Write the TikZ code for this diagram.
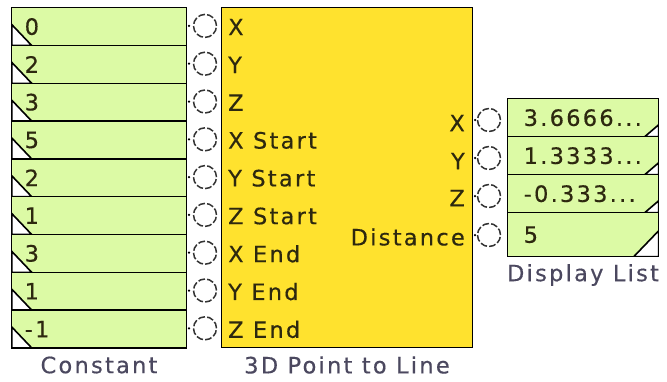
\documentclass[tikz,border=0pt]{standalone}
\usepackage{fontspec}
\setmainfont{DejaVu Sans}[LetterSpace=10, FakeBold=0.4]
\definecolor{cgreen}{RGB}{220,250,165}
\definecolor{cyellow}{RGB}{255,226,46}
\definecolor{ctext}{RGB}{45,40,15}
\definecolor{ccap}{RGB}{75,72,95}
\tikzset{
  cbox/.style = {draw, line width=1.4pt, fill=cgreen, text=ctext, minimum height=37.8pt,
    inner xsep=13pt, text width=149pt, align=left, anchor=north west,
    path picture={\filldraw[fill=white, line width=1.6pt] (path picture bounding box.south west)
      -- ++(0pt,21pt) -- ++(20pt,-21pt) -- cycle;}},
  dbox/.style = {draw, line width=1.4pt, fill=cgreen, text=ctext, minimum height=38pt,
    inner xsep=16pt, text width=119pt, align=left, anchor=north west,
    path picture={\filldraw[fill=white, line width=1.6pt] (path picture bounding box.south east)
      -- ++(0pt,12pt) -- ++(-14pt,-12pt) -- cycle;}},
  port/.style = {circle, draw=black!80, line width=1.5pt, dash pattern=on 6.8pt off 2.2pt,
    minimum size=23pt, inner sep=0pt, fill=white},
  pin/.style  = {circle, fill=black, minimum size=2.5pt, inner sep=0pt},
  lbl/.style  = {text=ctext, inner sep=0pt},
  captxt/.style = {text=ccap, inner sep=0pt}
}
\begin{document}
\begin{tikzpicture}[x=1pt, y=-1pt, font=\fontsize{22.5}{24}\selectfont]
  \useasboundingbox (0,0) rectangle (667,381);

  % constants
  \foreach \v [count=\i from 0] in {0,2,3,5,2,1,3,1,-1} {
    \node[cbox] (c\i) at (11,{7+37.8*\i}) {\v};
    \node[port] (p\i) at (205,{25.9+37.8*\i}) {};
    \node[pin] at (189,{25.9+37.8*\i}) {};
  }
  \node[captxt] (ccap) at (99,365) {Constant};

  % block
  \node[draw, line width=1.4pt, fill=cyellow, minimum width=251pt, minimum height=340pt,
        anchor=north west] (blk) at (221,7) {};
  \foreach \t [count=\i from 0] in {X,Y,Z,X Start,Y Start,Z Start,X End,Y End,Z End}
    \node[lbl, anchor=west] (in\i) at (228,{27+37.8*\i}) {\t};
  \node[captxt] (bcap) at (347,365) {3D Point to Line};

  % outputs
  \node[lbl, anchor=east] (ox) at (465,123) {X};
  \node[lbl, anchor=east] (oy) at (465,161) {Y};
  \node[lbl, anchor=east] (oz) at (465,198) {Z};
  \node[lbl, anchor=east] (od) at (465,237) {Distance};
  \foreach \y [count=\i from 0] in {120,158,196,235} {
    \node[port] (q\i) at (489,\y) {};
    \node[pin] at (475,\y) {};
  }

  % display list
  \node[dbox] (d0) at (507,98)  {3.6666...};
  \node[dbox] (d1) at (507,136) {1.3333...};
  \node[dbox] (d2) at (507,174) {-0.333...};
  \node[dbox, minimum height=44pt, path picture={\filldraw[fill=white, line width=1.6pt]
      (path picture bounding box.south east) -- ++(0pt,26pt) -- ++(-25pt,-26pt) -- cycle;}]
      (d3) at (507,212) {5};
  \node[captxt] (dcap) at (583,275) {Display List};
\end{tikzpicture}
\end{document}
